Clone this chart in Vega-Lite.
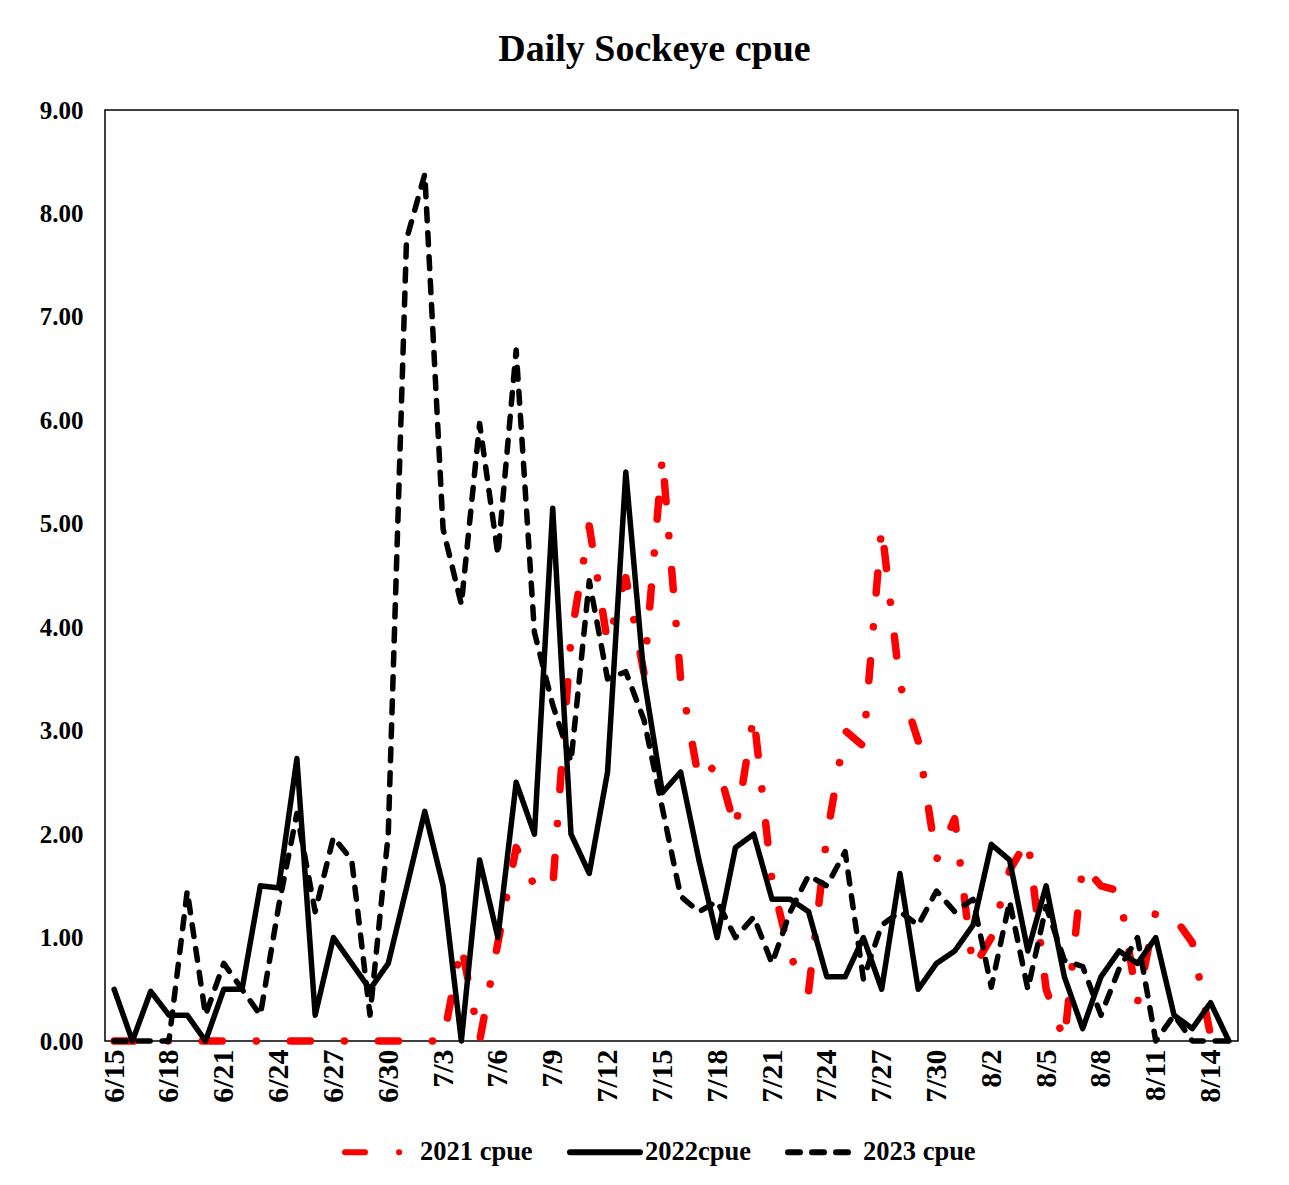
{
  "$schema": "https://vega.github.io/schema/vega-lite/v6.json",
  "width": 1133,
  "height": 931,
  "autosize": {"type": "none"},
  "padding": {"left": 105, "top": 110, "right": 51, "bottom": 144},
  "background": "white",
  "title": {
    "text": "Daily Sockeye cpue",
    "font": "Liberation Serif",
    "fontSize": 38,
    "fontWeight": "bold",
    "color": "black",
    "anchor": "middle",
    "offset": 29,
    "dx": -17
  },
  "data": {
    "values": [
      {"d": "6/15", "2021 cpue": 0, "2022cpue": 0.5, "2023 cpue": 0},
      {"d": "6/16", "2021 cpue": 0, "2022cpue": 0, "2023 cpue": 0},
      {"d": "6/17", "2021 cpue": 0, "2022cpue": 0.48, "2023 cpue": 0},
      {"d": "6/18", "2021 cpue": 0, "2022cpue": 0.25, "2023 cpue": 0},
      {"d": "6/19", "2021 cpue": 0, "2022cpue": 0.25, "2023 cpue": 1.45},
      {"d": "6/20", "2021 cpue": 0, "2022cpue": 0, "2023 cpue": 0.25},
      {"d": "6/21", "2021 cpue": 0, "2022cpue": 0.5, "2023 cpue": 0.75},
      {"d": "6/22", "2021 cpue": 0, "2022cpue": 0.5, "2023 cpue": 0.5},
      {"d": "6/23", "2021 cpue": 0, "2022cpue": 1.5, "2023 cpue": 0.25},
      {"d": "6/24", "2021 cpue": 0, "2022cpue": 1.48, "2023 cpue": 1.3},
      {"d": "6/25", "2021 cpue": 0, "2022cpue": 2.73, "2023 cpue": 2.2},
      {"d": "6/26", "2021 cpue": 0, "2022cpue": 0.25, "2023 cpue": 1.25},
      {"d": "6/27", "2021 cpue": 0, "2022cpue": 1.0, "2023 cpue": 1.97},
      {"d": "6/28", "2021 cpue": 0, "2022cpue": 0.75, "2023 cpue": 1.75},
      {"d": "6/29", "2021 cpue": 0, "2022cpue": 0.5, "2023 cpue": 0.25},
      {"d": "6/30", "2021 cpue": 0, "2022cpue": 0.75, "2023 cpue": 2.0},
      {"d": "7/1", "2021 cpue": 0, "2022cpue": 1.48, "2023 cpue": 7.75},
      {"d": "7/2", "2021 cpue": 0, "2022cpue": 2.22, "2023 cpue": 8.38},
      {"d": "7/3", "2021 cpue": 0, "2022cpue": 1.5, "2023 cpue": 4.95},
      {"d": "7/4", "2021 cpue": 0.93, "2022cpue": 0, "2023 cpue": 4.22},
      {"d": "7/5", "2021 cpue": 0, "2022cpue": 1.75, "2023 cpue": 5.97},
      {"d": "7/6", "2021 cpue": 0.95, "2022cpue": 1.0, "2023 cpue": 4.7},
      {"d": "7/7", "2021 cpue": 1.87, "2022cpue": 2.5, "2023 cpue": 6.68},
      {"d": "7/8", "2021 cpue": 1.5, "2022cpue": 2.0, "2023 cpue": 3.95},
      {"d": "7/9", "2021 cpue": 1.48, "2022cpue": 5.15, "2023 cpue": 3.25},
      {"d": "7/10", "2021 cpue": 3.9, "2022cpue": 2.0, "2023 cpue": 2.7},
      {"d": "7/11", "2021 cpue": 4.98, "2022cpue": 1.62, "2023 cpue": 4.45},
      {"d": "7/12", "2021 cpue": 3.85, "2022cpue": 2.6, "2023 cpue": 3.5},
      {"d": "7/13", "2021 cpue": 4.48, "2022cpue": 5.5, "2023 cpue": 3.57},
      {"d": "7/14", "2021 cpue": 3.55, "2022cpue": 3.5, "2023 cpue": 3.1},
      {"d": "7/15", "2021 cpue": 5.65, "2022cpue": 2.4, "2023 cpue": 2.25},
      {"d": "7/16", "2021 cpue": 3.5, "2022cpue": 2.6, "2023 cpue": 1.4},
      {"d": "7/17", "2021 cpue": 2.52, "2022cpue": 1.75, "2023 cpue": 1.25},
      {"d": "7/18", "2021 cpue": 2.68, "2022cpue": 1.0, "2023 cpue": 1.35},
      {"d": "7/19", "2021 cpue": 2.05, "2022cpue": 1.87, "2023 cpue": 1.0},
      {"d": "7/20", "2021 cpue": 3.15, "2022cpue": 2.0, "2023 cpue": 1.2},
      {"d": "7/21", "2021 cpue": 1.55, "2022cpue": 1.37, "2023 cpue": 0.75},
      {"d": "7/22", "2021 cpue": 0.82, "2022cpue": 1.37, "2023 cpue": 1.25},
      {"d": "7/23", "2021 cpue": 0.48, "2022cpue": 1.25, "2023 cpue": 1.6},
      {"d": "7/24", "2021 cpue": 1.98, "2022cpue": 0.62, "2023 cpue": 1.5},
      {"d": "7/25", "2021 cpue": 3.0, "2022cpue": 0.62, "2023 cpue": 1.83},
      {"d": "7/26", "2021 cpue": 2.85, "2022cpue": 1.0, "2023 cpue": 0.6},
      {"d": "7/27", "2021 cpue": 4.97, "2022cpue": 0.5, "2023 cpue": 1.12},
      {"d": "7/28", "2021 cpue": 3.45, "2022cpue": 1.62, "2023 cpue": 1.25},
      {"d": "7/29", "2021 cpue": 2.9, "2022cpue": 0.5, "2023 cpue": 1.12},
      {"d": "7/30", "2021 cpue": 1.75, "2022cpue": 0.75, "2023 cpue": 1.45},
      {"d": "7/31", "2021 cpue": 2.15, "2022cpue": 0.87, "2023 cpue": 1.25},
      {"d": "8/1", "2021 cpue": 0.7, "2022cpue": 1.12, "2023 cpue": 1.37},
      {"d": "8/2", "2021 cpue": 1.0, "2022cpue": 1.9, "2023 cpue": 0.52},
      {"d": "8/3", "2021 cpue": 1.65, "2022cpue": 1.75, "2023 cpue": 1.35},
      {"d": "8/4", "2021 cpue": 1.95, "2022cpue": 0.87, "2023 cpue": 0.5},
      {"d": "8/5", "2021 cpue": 0.5, "2022cpue": 1.5, "2023 cpue": 1.3},
      {"d": "8/6", "2021 cpue": 0, "2022cpue": 0.62, "2023 cpue": 0.78},
      {"d": "8/7", "2021 cpue": 1.7, "2022cpue": 0.12, "2023 cpue": 0.72},
      {"d": "8/8", "2021 cpue": 1.5, "2022cpue": 0.62, "2023 cpue": 0.25},
      {"d": "8/9", "2021 cpue": 1.45, "2022cpue": 0.87, "2023 cpue": 0.7},
      {"d": "8/10", "2021 cpue": 0.37, "2022cpue": 0.75, "2023 cpue": 1.0},
      {"d": "8/11", "2021 cpue": 1.25, "2022cpue": 1.0, "2023 cpue": 0},
      {"d": "8/12", "2021 cpue": 1.2, "2022cpue": 0.25, "2023 cpue": 0.25},
      {"d": "8/13", "2021 cpue": 0.95, "2022cpue": 0.12, "2023 cpue": 0},
      {"d": "8/14", "2021 cpue": 0.05, "2022cpue": 0.37, "2023 cpue": 0},
      {"d": "8/15", "2021 cpue": 0, "2022cpue": 0, "2023 cpue": 0}
    ]
  },
  "transform": [
    {"fold": ["2021 cpue", "2022cpue", "2023 cpue"], "as": ["series", "cpue"]}
  ],
  "mark": {"type": "line", "strokeCap": "round", "strokeJoin": "round", "clip": false},
  "encoding": {
    "x": {
      "field": "d",
      "type": "ordinal",
      "sort": null,
      "scale": {"type": "point", "padding": 0.5},
      "axis": {
        "title": null,
        "values": ["6/15","6/18","6/21","6/24","6/27","6/30","7/3","7/6","7/9","7/12","7/15","7/18","7/21","7/24","7/27","7/30","8/2","8/5","8/8","8/11","8/14"],
        "labelAngle": -90,
        "labelAlign": "right",
        "labelBaseline": "middle",
        "labelPadding": 8,
        "labelFontSize": 30,
        "ticks": false,
        "domain": false,
        "grid": false
      }
    },
    "y": {
      "field": "cpue",
      "type": "quantitative",
      "scale": {"domain": [0, 9], "nice": false, "zero": true},
      "axis": {
        "title": null,
        "values": [0, 1, 2, 3, 4, 5, 6, 7, 8, 9],
        "format": ".2f",
        "labelPadding": 22,
        "ticks": false,
        "domain": false,
        "grid": false
      }
    },
    "color": {
      "field": "series",
      "type": "nominal",
      "scale": {"domain": ["2021 cpue", "2022cpue", "2023 cpue"], "range": ["#ff0000", "#000000", "#000000"]},
      "legend": {
        "title": null,
        "orient": "none",
        "legendX": 237,
        "legendY": 1004,
        "direction": "horizontal",
        "columns": 3,
        "symbolType": "stroke",
        "symbolSize": 4900,
        "symbolStrokeWidth": 6,
        "labelOffset": 2,
        "columnPadding": 25,
        "labelFont": "Liberation Serif",
        "labelFontSize": 26.5,
        "labelFontWeight": "bold",
        "labelColor": "black",
        "encoding": {"symbols": {"strokeCap": {"value": "round"}}}
      }
    },
    "strokeDash": {
      "field": "series",
      "type": "nominal",
      "scale": {"domain": ["2021 cpue", "2022cpue", "2023 cpue"], "range": [[20, 34, 0.1, 34], [1, 0], [12, 12]]},
      "legend": {
        "title": null,
        "orient": "none",
        "legendX": 237,
        "legendY": 1004,
        "direction": "horizontal",
        "columns": 3,
        "symbolType": "stroke",
        "symbolSize": 4900,
        "symbolStrokeWidth": 6,
        "labelOffset": 2,
        "columnPadding": 25,
        "labelFont": "Liberation Serif",
        "labelFontSize": 26.5,
        "labelFontWeight": "bold",
        "labelColor": "black",
        "encoding": {"symbols": {"strokeCap": {"value": "round"}}}
      }
    },
    "strokeWidth": {
      "condition": {"test": "datum.series === '2021 cpue'", "value": 7.5},
      "value": 5.5
    }
  },
  "config": {
    "view": {"stroke": "black", "strokeWidth": 1.5},
    "axis": {
      "labelFont": "Liberation Serif",
      "labelFontSize": 25,
      "labelFontWeight": "bold",
      "labelColor": "black"
    }
  }
}
